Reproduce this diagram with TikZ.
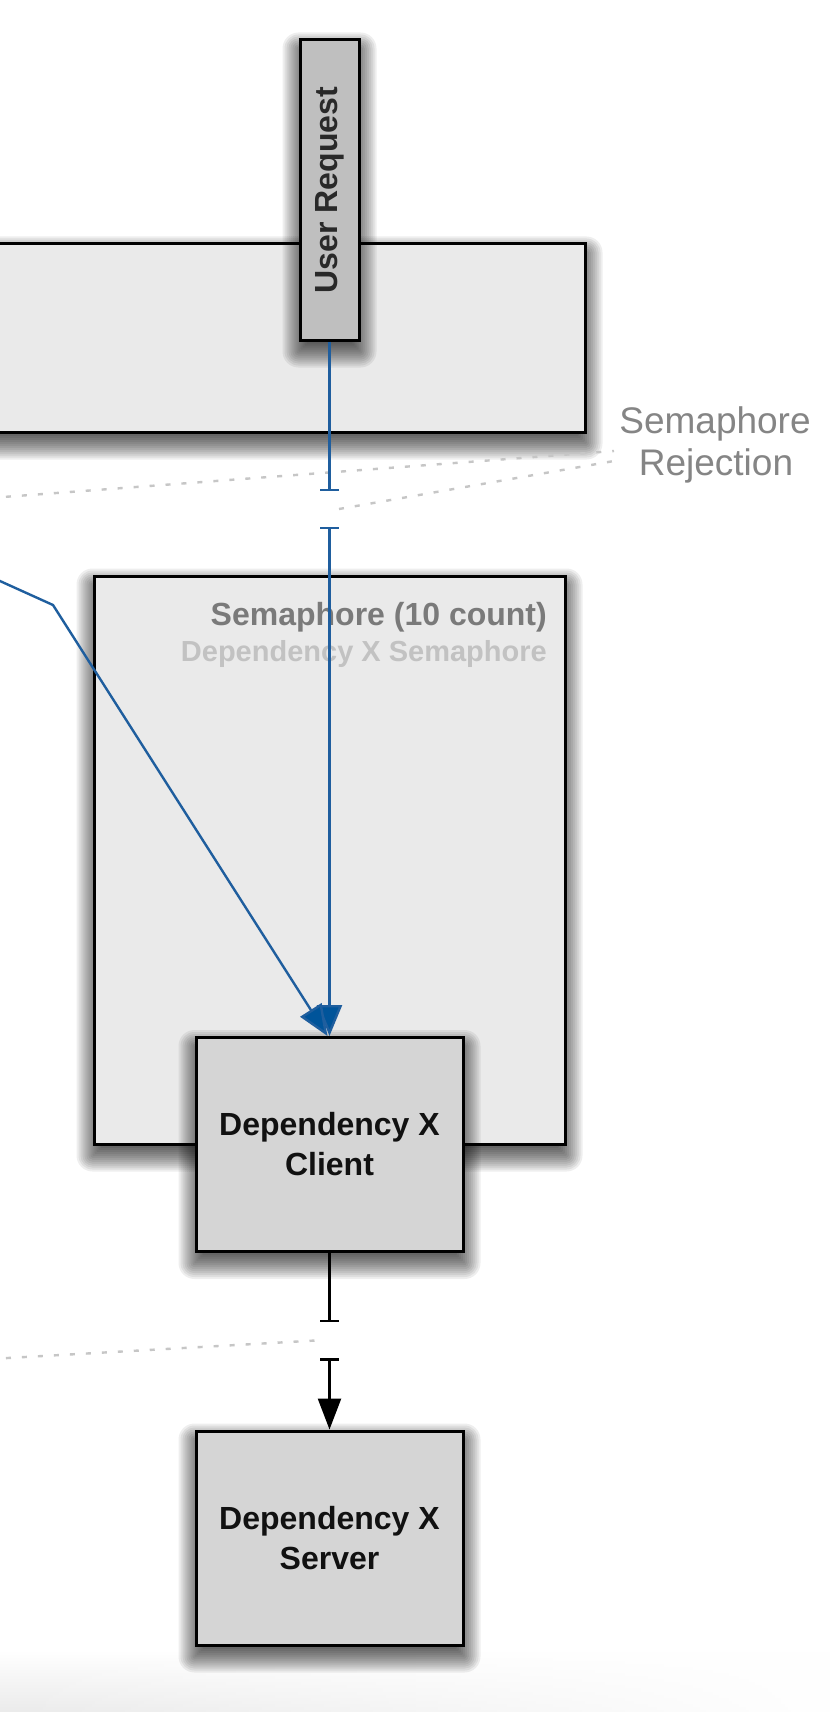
\documentclass[tikz,border=0pt]{standalone}
\usepackage{fontspec}
\setmainfont{Liberation Sans}
\usetikzlibrary{arrows.meta,fadings}
\definecolor{boxlight}{HTML}{EAEAEA}
\definecolor{boxmid}{HTML}{D5D5D5}
\definecolor{boxdark}{HTML}{BFBFBF}
\definecolor{flowblue}{HTML}{1F5E9E}
\definecolor{headblue}{HTML}{00549A}
\definecolor{dotgray}{HTML}{C6C6C6}
\definecolor{labelgray}{HTML}{7A7A7A}
\definecolor{sublabel}{HTML}{C2C2C2}
\definecolor{notegray}{HTML}{858585}
\definecolor{textdark}{HTML}{111111}
\pgfdeclarelayer{bgshadow}
\pgfdeclarelayer{bgpanel}
\pgfdeclarelayer{fgshadow}
\pgfsetlayers{bgshadow,bgpanel,fgshadow,main}
\tikzfading[name=bandfade, left color=transparent!0, right color=transparent!100]
\newcommand\castshadow[1]{%
  \foreach \k in {-8,-6,...,16}{%
    \pgfmathsetmacro\rr{max(\k,0.5)}%
    \fill[black, fill opacity=0.068, rounded corners=\rr pt]
      ([shift={({-(\k)},{10-(\k)})}]#1.north west) rectangle ([shift={({\k},{10+(\k)})}]#1.south east);
  }%
}
\tikzset{
  panel/.style={draw=black, line width=3pt, fill=boxlight, inner sep=0pt},
  block/.style={draw=black, line width=3pt, fill=boxmid, minimum width=267pt, minimum height=214pt, inner sep=0pt, align=center, font=\fontsize{32}{40}\selectfont\bfseries, text=textdark},
  reqbox/.style={draw=black, line width=3pt, fill=boxdark, minimum width=59pt, minimum height=300pt, inner sep=0pt, font=\fontsize{32}{38}\selectfont\bfseries, text=textdark!90},
  flow/.style={draw=flowblue, line width=2.4pt},
  link/.style={draw=black, line width=2.5pt},
  dots/.style={draw=dotgray, line width=2.4pt, dash pattern=on 5pt off 11pt},
  notetext/.style={anchor=base, inner sep=0pt, font=\fontsize{37}{42}\selectfont, text=notegray},
  blueHead/.style={-{Triangle[length=31pt,width=25pt,fill=headblue]}},
}
\begin{document}
\begin{tikzpicture}[x=1pt,y=-1pt]
\useasboundingbox (0,0) rectangle (830,1712);
\clip (0,0) rectangle (830,1712);
\begin{pgfonlayer}{bgshadow}
\fill[white] (0,0) rectangle (830,1712);
\shade[top color=white, bottom color=black!8, path fading=bandfade] (0,1650) rectangle (830,1712);
\end{pgfonlayer}

% panels
\begin{pgfonlayer}{bgpanel}
\node[panel, minimum width=700pt, minimum height=188pt] (gateway) at (235,338) {};
\node[panel, minimum width=471pt, minimum height=568pt] (sem) at (329.5,860) {};
\node[anchor=base east, inner sep=0pt, font=\fontsize{32}{38}\selectfont\bfseries, text=labelgray] (semtitle) at (547,625) {Semaphore (10 count)};
\node[anchor=base east, inner sep=0pt, font=\fontsize{29}{34}\selectfont\bfseries, text=sublabel] (semsub) at (547,661) {Dependency X Semaphore};
\end{pgfonlayer}

% boxes
\node[reqbox] (ureq) at (329.5,190) {\rotatebox{90}{User Request}};
\node[block] (client) at (329.5,1144.5) {Dependency X\\Client};
\node[block] (server) at (329.5,1538) {Dependency X\\Server};

% shadows
\begin{pgfonlayer}{bgshadow}
\castshadow{gateway}
\castshadow{sem}
\end{pgfonlayer}
\begin{pgfonlayer}{fgshadow}
\castshadow{ureq}
\castshadow{client}
\castshadow{server}
\end{pgfonlayer}

% rejection note
\node[notetext] (rej1) at (715,433) {Semaphore};
\node[notetext] (rej2) at (716,475) {Rejection};
\coordinate (rejA) at (614,451);
\coordinate (rejB) at (614,461);

% gaps in connectors
\coordinate (gapAtop) at (329.5,491);
\coordinate (gapAbot) at (329.5,527);
\coordinate (gapAmid) at (339,509);
\coordinate (gapBtop) at (329.5,1322);
\coordinate (gapBbot) at (329.5,1358);
\coordinate (gapBmid) at (324,1340);
\coordinate (leftA) at (-10,498);
\coordinate (leftB) at (-10,1359);
\coordinate (leftIn) at (-20,572);
\coordinate (bend) at (53,605);

% dotted rejection lines
\draw[dots] (leftA) -- (rejA);
\draw[dots] (gapAmid) -- (rejB);
\draw[dots] (leftB) -- (gapBmid);

% blue request flow
\draw[flow, -{Bar[width=19pt]}] (ureq.south) -- (gapAtop);
\draw[flow, {Bar[width=19pt]}-{Triangle[length=31pt,width=25pt,fill=headblue]}] (gapAbot) -- (client.north);
\draw[flow, blueHead] (leftIn) -- (bend) -- ([xshift=-2pt]client.north);

% black call to server
\draw[link, -{Bar[width=19pt]}] (client.south) -- (gapBtop);
\draw[link, {Bar[width=19pt]}-{Triangle[length=31pt,width=23pt]}] (gapBbot) -- (server.north);
\end{tikzpicture}
\end{document}
